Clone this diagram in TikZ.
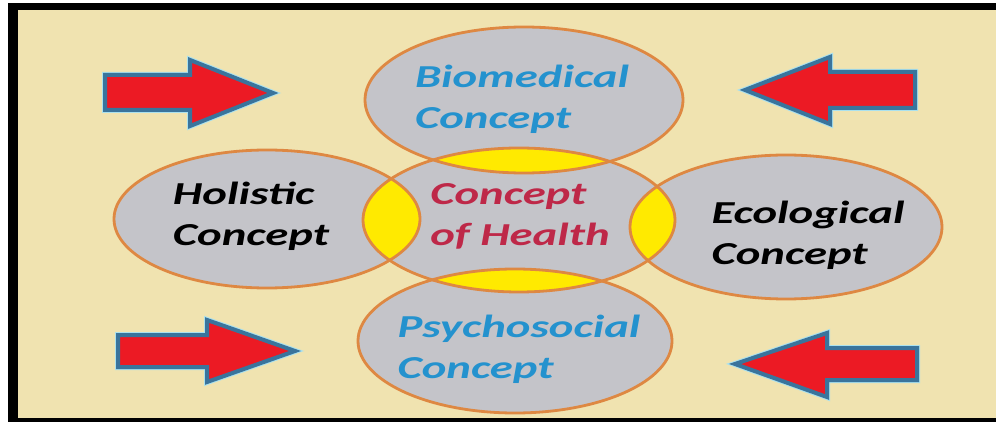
\documentclass[tikz,border=0pt]{standalone}
\usepackage{fontspec}
\newfontfamily\conceptfont[FakeStretch=1.46]{Carlito}
\definecolor{paper}{RGB}{240,227,176}
\definecolor{blobgrey}{RGB}{196,196,201}
\definecolor{ringorange}{RGB}{222,136,66}
\definecolor{lensyellow}{RGB}{255,234,0}
\definecolor{bluetext}{RGB}{36,146,206}
\definecolor{healthred}{RGB}{190,40,72}
\definecolor{arrowred}{RGB}{236,26,36}
\definecolor{arrowblue}{RGB}{58,116,156}
\definecolor{halo}{RGB}{170,225,238}
\tikzstyle{ring} = [draw=ringorange,
                    line width=2.8pt]
\tikzstyle{blob} = [fill=blobgrey]
\tikzstyle{conceptlabel} = [align=left,
                            inner sep=0pt,
                            font=\conceptfont\bfseries\itshape\fontsize{32}{41}\selectfont]
\tikzstyle{blockarrow} = [fill=arrowred,
                          draw=arrowblue,
                          line width=4pt,
                          preaction={draw=halo, line width=6pt}]

\begin{document}
\begin{tikzpicture}[x=1pt, y=-1pt]
\useasboundingbox (0,0) rectangle (996,422);
% frame
\fill[white] (0,0) rectangle (996,422);
\fill[black] (8,3) rectangle (996,422);
\fill[paper] (18,10) rectangle (996,418);

% arrows
\draw[blockarrow] (105,75) -- (190,75) -- (190,60) -- (273,93) -- (190,126) -- (190,110) -- (105,110) -- cycle;
\draw[blockarrow] (915,72) -- (830,72) -- (830,57) -- (745,90) -- (830,124) -- (830,108) -- (915,108) -- cycle;
\draw[blockarrow] (118,335) -- (207,335) -- (207,320) -- (295,351) -- (207,382) -- (207,367) -- (118,367) -- cycle;
\draw[blockarrow] (917,348) -- (827,348) -- (827,333) -- (735,364) -- (827,397) -- (827,380) -- (917,380) -- cycle;

% circles
\coordinate (bio) at (524,100);
\coordinate (holistic) at (267,219);
\coordinate (hub) at (519,220);
\coordinate (eco) at (786,227);
\coordinate (psycho) at (515,341);

\fill[blob] (bio) ellipse [x radius=159, y radius=73];
\fill[blob] (holistic) ellipse [x radius=153, y radius=69];
\fill[blob] (hub) ellipse [x radius=156, y radius=72];
\fill[blob] (eco) ellipse [x radius=156, y radius=72];
\fill[blob] (psycho) ellipse [x radius=157, y radius=72];

\begin{scope}
\clip (hub) ellipse [x radius=156, y radius=72];
\fill[lensyellow] (bio) ellipse [x radius=159, y radius=73];
\fill[lensyellow] (holistic) ellipse [x radius=153, y radius=69];
\fill[lensyellow] (eco) ellipse [x radius=156, y radius=72];
\fill[lensyellow] (psycho) ellipse [x radius=157, y radius=72];
\end{scope}

\draw[ring] (bio) ellipse [x radius=159, y radius=73];
\draw[ring] (holistic) ellipse [x radius=153, y radius=69];
\draw[ring] (hub) ellipse [x radius=156, y radius=72];
\draw[ring] (eco) ellipse [x radius=156, y radius=72];
\draw[ring] (psycho) ellipse [x radius=157, y radius=72];

% texts
\node (biotext) [conceptlabel, text=bluetext] at (522,99) {Biomedical\\Concept};
\node (holistictext) [conceptlabel] at (251,216) {Holistic\\Concept};
\node (hubtext) [conceptlabel, text=healthred] at (520,216) {Concept\\of Health};
\node (ecotext) [conceptlabel] at (808,235) {Ecological\\Concept};
\node (psychotext) [conceptlabel, text=bluetext] at (519,349) {Psychosocial\\Concept};
\end{tikzpicture}
\end{document}
